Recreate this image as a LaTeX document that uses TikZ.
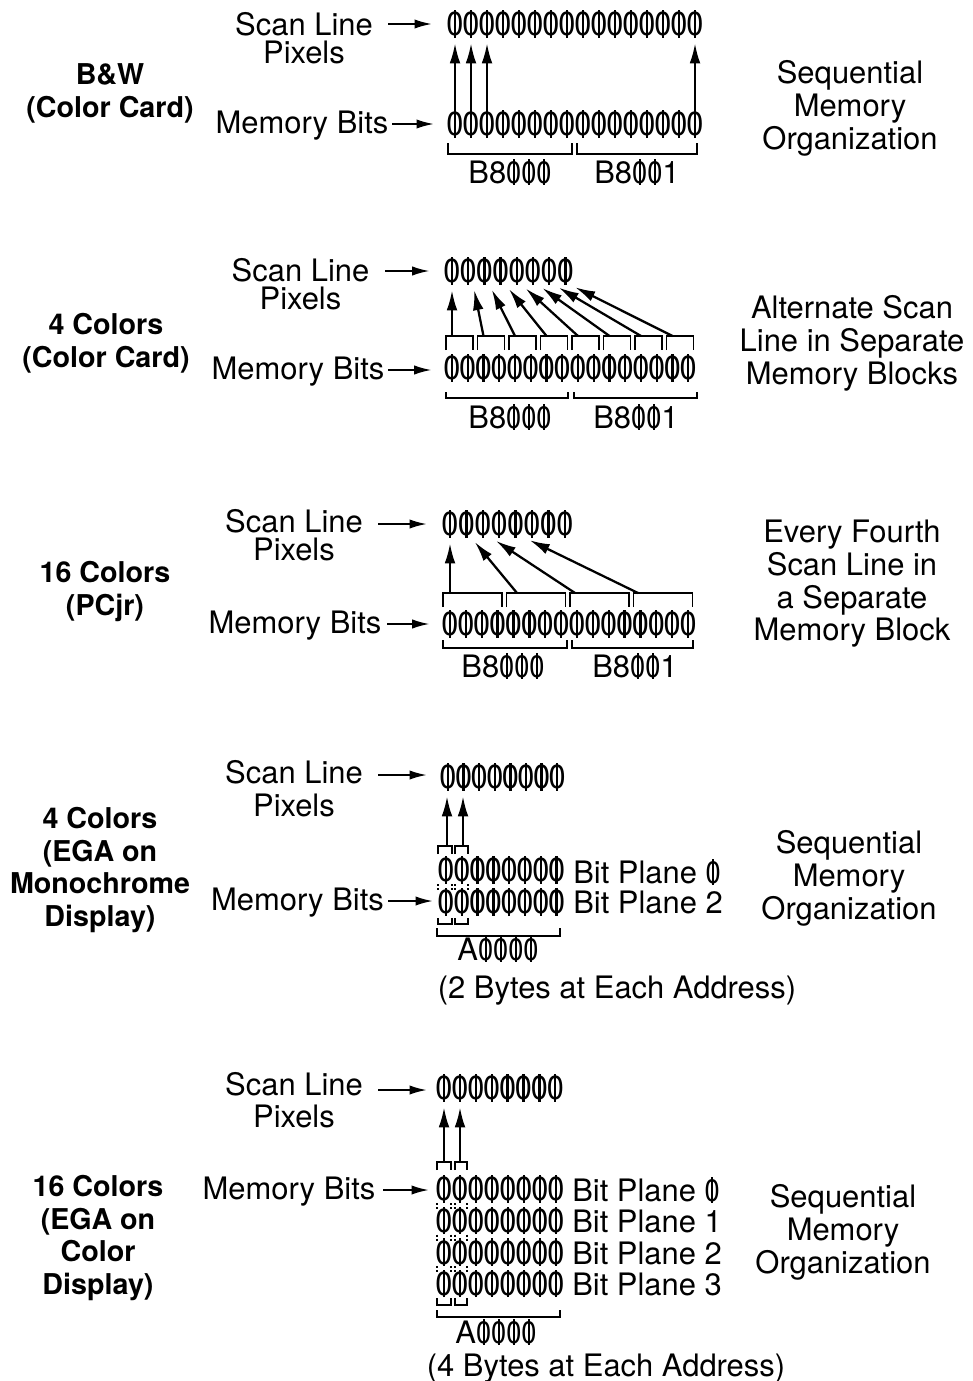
\documentclass[tikz,border=0pt]{standalone}
\usepackage{graphicx}
\usepackage{fontspec}
\setmainfont{TeX Gyre Heros}
\usetikzlibrary{arrows.meta}
\newcommand\zs{\makebox[11.3pt]{\scalebox{0.92}[1]{\ooalign{0\cr\hidewidth\rule[-0.05em]{0.075em}{0.82em}\hidewidth\cr}}}}
\newcommand\tz{\scalebox{0.88}[1]{\ooalign{0\cr\hidewidth\rule[-0.06em]{0.075em}{0.84em}\hidewidth\cr}}}
\newcommand\digfont{\fontsize{25}{25}\selectfont}
\newcommand\lblfont{\fontsize{23.2}{24.75}\selectfont}
\newcommand\hdfont{\fontsize{21.5}{24.5}\selectfont\bfseries}
\newcommand\drow[5]{\foreach \i in {0,...,#4}{\node[dig] (#1-\i) at ({#2+\i*(#5)},#3) {\zs};}}
\tikzset{
  dig/.style={inner sep=0pt, font=\digfont},
  lbl/.style={inner sep=0pt, font=\lblfont, align=center},
  hd/.style={inner sep=0pt, font=\hdfont, align=center},
  harr/.style={line width=1.4pt, -{Latex[length=13pt,width=7pt]}},
  varr/.style={line width=1.7pt, -{Latex[length=15pt,width=8pt]}, shorten >=4pt},
  brk/.style={line width=1.4pt},
  dots/.style={line width=1.1pt, dash pattern=on 1.5pt off 1.8pt},
}
\begin{document}
\begin{tikzpicture}[x=0.75pt,y=-0.75pt]
\useasboundingbox (0,0) rectangle (972,1381);
% ================= Panel 1 =================
\node[hd] (h1) at (110,93.5) {B\&W\\(Color Card)};
\node[lbl, font=\fontsize{23.2}{21}\selectfont] (s1) at (304,38) {Scan Line\\Pixels};
\node[lbl, anchor=base] (mb1) at (302,133) {Memory Bits};
\node[lbl] (r1) at (850,108) {Sequential\\Memory\\Organization};
\drow{t1}{455}{25}{15}{16}
\drow{m1}{455}{125}{15}{16}
\foreach \k in {0,1,2,15} \draw[varr] (m1-\k.north) -- (t1-\k.south);
\draw[brk] (448,143) -- (448,154) -- (572,154) -- (572,143);
\draw[brk] (577,143) -- (577,154) -- (697,154) -- (697,143);
\node[lbl, anchor=base] (ad1a) at (510,183) {B8\tz\tz\tz};
\node[lbl, anchor=base] (ad1b) at (637,183) {B8\tz\tz1};
\coordinate (sa1) at (388,24);
\draw[harr, shorten >=11.5pt] (sa1) -- (sa1 -| t1-0.west);
\coordinate (ma1) at (392,124);
\draw[harr, shorten >=10pt] (ma1) -- (ma1 -| m1-0.west);
% ================= Panel 2 =================
\node[hd] (h2) at (106,343) {4 Colors\\(Color Card)};
\node[lbl, font=\fontsize{23.2}{21}\selectfont] (s2) at (300.5,284) {Scan Line\\Pixels};
\node[lbl, anchor=base] (mb2) at (298,379) {Memory Bits};
\node[lbl] (r2) at (852,343) {Alternate Scan\\Line in Separate\\Memory Blocks};
\drow{t2}{452}{272}{7}{16.2}
\drow{m2}{452}{369}{15}{15.75}
\foreach \k in {0,...,7} {
  \draw[brk] ({446+31.5*\k},350) -- ++(0,-14) -- ++(27,0) -- ++(0,14);
  \coordinate (b2-\k) at ({452+31.5*\k},336);
}
\draw[varr] (b2-0) -- (t2-0.south);
\foreach \k in {1,...,7} \draw[varr] (b2-\k) -- ([xshift=3.75pt]t2-\k.south);
\draw[brk] (446,392) -- (446,398) -- (568,398) -- (568,392);
\draw[brk] (574,392) -- (574,398) -- (697,398) -- (697,392);
\node[lbl, anchor=base] (ad2a) at (510,428) {B8\tz\tz\tz};
\node[lbl, anchor=base] (ad2b) at (636,428) {B8\tz\tz1};
\coordinate (sa2) at (385,271);
\draw[harr, shorten >=11pt] (sa2) -- (sa2 -| t2-0.west);
\coordinate (ma2) at (388,370);
\draw[harr, shorten >=9.5pt] (ma2) -- (ma2 -| m2-0.west);
% ================= Panel 3 =================
\node[hd] (h3) at (105,591.5) {16 Colors\\(PCjr)};
\node[lbl, font=\fontsize{23.2}{21}\selectfont] (s3) at (294,535) {Scan Line\\Pixels};
\node[lbl, anchor=base] (mb3) at (295,633) {Memory Bits};
\node[lbl, font=\fontsize{23.2}{24.5}\selectfont] (r3) at (852,584) {Every Fourth\\Scan Line in\\a Separate\\Memory Block};
\drow{t3}{450}{525}{7}{16.4}
\drow{m3}{450}{625}{15}{15.87}
\foreach \k in {0,...,3}
  \draw[brk] ({443+63.5*\k},607) -- ++(0,-14) -- ++(59,0) -- ++(0,14);
\coordinate (b3-0) at (450,593);
\coordinate (b3-1) at (517,593);
\coordinate (b3-2) at (575,593);
\coordinate (b3-3) at (638,593);
\draw[varr] (b3-0) -- (t3-0.south);
\draw[varr] (b3-1) -- ([xshift=3.75pt]t3-1.south);
\draw[varr] (b3-2) -- ([xshift=6.5pt]t3-2.south);
\draw[varr] (b3-3) -- ([xshift=7pt]t3-4.south);
\draw[brk] (443,640) -- (443,648) -- (567,648) -- (567,640);
\draw[brk] (572,640) -- (572,648) -- (693,648) -- (693,640);
\node[lbl, anchor=base] (ad3a) at (503,677) {B8\tz\tz\tz};
\node[lbl, anchor=base] (ad3b) at (635,677) {B8\tz\tz1};
\coordinate (sa3) at (378,524);
\draw[harr, shorten >=11.5pt] (sa3) -- (sa3 -| t3-0.west);
\coordinate (ma3) at (387,624);
\draw[harr, shorten >=9.5pt] (ma3) -- (ma3 -| m3-0.west);
% ================= Panel 4 =================
\node[hd] (h4) at (100,870) {4 Colors\\(EGA on\\Monochrome\\Display)};
\node[lbl, font=\fontsize{23.2}{24.75}\selectfont] (s4) at (294,788.5) {Scan Line\\Pixels};
\node[lbl, anchor=base] (mb4) at (297.5,910) {Memory Bits};
\node[lbl] (r4) at (849,878.5) {Sequential\\Memory\\Organization};
\drow{t4}{448}{778}{7}{15.6}
\drow{p4a}{446}{871}{7}{15.8}
\drow{p4b}{446}{903}{7}{15.8}
\draw[brk] (438,854) -- (438,846) -- (452,846) -- (452,854);
\draw[brk] (455,854) -- (455,846) -- (468,846) -- (468,854);
\coordinate (b4-0) at (447,846);
\coordinate (b4-1) at (463,846);
\draw[varr] (b4-0) -- (b4-0 |- t4-0.south);
\draw[varr] (b4-1) -- (b4-1 |- t4-1.south);
\foreach \e in {438,452,455,468} \draw[dots] (\e,884) -- (\e,890);
\draw[brk] (438,918) -- (438,924) -- (452,924) -- (452,918);
\draw[brk] (455,918) -- (455,924) -- (468,924) -- (468,918);
\draw[brk] (437,928) -- (437,936) -- (560,936) -- (560,928);
\node[lbl, anchor=base west] (bp4a) at (573,883) {Bit Plane \tz};
\node[lbl, anchor=base west] (bp4b) at (573,913) {Bit Plane 2};
\node[lbl, anchor=base] (ad4) at (498,960) {A\tz\tz\tz\tz};
\node[lbl, anchor=base] (by4) at (617,998) {(2 Bytes at Each Address)};
\coordinate (sa4) at (378,775);
\draw[harr, shorten >=10pt] (sa4) -- (sa4 -| t4-0.west);
\coordinate (ma4) at (388,901);
\draw[harr, shorten >=4pt] (ma4) -- (ma4 -| p4b-0.west);
% ================= Panel 5 =================
\node[hd] (h5) at (98,1238) {16 Colors\\(EGA on\\Color\\Display)};
\node[lbl, font=\fontsize{23.2}{24}\selectfont] (s5) at (294,1100) {Scan Line\\Pixels};
\node[lbl, anchor=base] (mb5) at (289,1199) {Memory Bits};
\node[lbl] (r5) at (843,1232.5) {Sequential\\Memory\\Organization};
\drow{t5}{444}{1089}{7}{15.9}
\drow{p5a}{444}{1190}{7}{16}
\drow{p5b}{444}{1221.5}{7}{16}
\drow{p5c}{444}{1253}{7}{16}
\drow{p5d}{444}{1284.5}{7}{16}
\draw[brk] (437,1170) -- (437,1162) -- (451,1162) -- (451,1170);
\draw[brk] (455,1170) -- (455,1162) -- (467,1162) -- (467,1170);
\coordinate (b5-0) at (444,1162);
\coordinate (b5-1) at (460,1162);
\draw[varr] (b5-0) -- (b5-0 |- t5-0.south);
\draw[varr] (b5-1) -- (b5-1 |- t5-1.south);
\foreach \e in {437,451,455,467} {
  \draw[dots] (\e,1203) -- (\e,1209);
  \draw[dots] (\e,1234.5) -- (\e,1240.5);
  \draw[dots] (\e,1266) -- (\e,1272);
}
\draw[brk] (437,1298) -- (437,1305) -- (451,1305) -- (451,1298);
\draw[brk] (455,1298) -- (455,1305) -- (467,1305) -- (467,1298);
\draw[brk] (437,1310) -- (437,1317) -- (560,1317) -- (560,1310);
\node[lbl, anchor=base west] (bp5a) at (572,1201) {Bit Plane \tz};
\node[lbl, anchor=base west] (bp5b) at (572,1232) {Bit Plane 1};
\node[lbl, anchor=base west] (bp5c) at (572,1264) {Bit Plane 2};
\node[lbl, anchor=base west] (bp5d) at (572,1295) {Bit Plane 3};
\node[lbl, anchor=base] (ad5) at (496,1343) {A\tz\tz\tz\tz};
\node[lbl, anchor=base] (by5) at (606,1376) {(4 Bytes at Each Address)};
\coordinate (sa5) at (378,1090);
\draw[harr, shorten >=7pt] (sa5) -- (sa5 -| t5-0.west);
\coordinate (ma5) at (383,1190);
\draw[harr, shorten >=5.5pt] (ma5) -- (ma5 -| p5a-0.west);
\end{tikzpicture}
\end{document}
